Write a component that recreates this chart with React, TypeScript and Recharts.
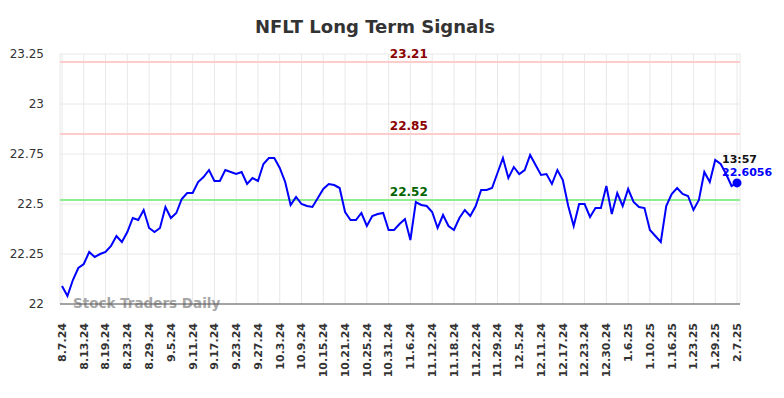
import { CartesianGrid, Customized, Line, LineChart, ReferenceLine, XAxis, YAxis } from 'recharts';

const tickLabels = [
  '8.7.24', '8.13.24', '8.19.24', '8.23.24', '8.29.24', '9.5.24', '9.11.24', '9.17.24',
  '9.23.24', '9.27.24', '10.3.24', '10.9.24', '10.15.24', '10.21.24', '10.25.24', '10.31.24',
  '11.6.24', '11.12.24', '11.18.24', '11.22.24', '11.29.24', '12.5.24', '12.11.24', '12.17.24',
  '12.23.24', '12.30.24', '1.6.25', '1.10.25', '1.16.25', '1.23.25', '1.29.25', '2.7.25',
];

const closes = [
  22.09, 22.04, 22.12, 22.18, 22.2, 22.26, 22.235, 22.25, 22.26, 22.29,
  22.34, 22.31, 22.36, 22.43, 22.42, 22.47, 22.38, 22.36, 22.38, 22.485,
  22.43, 22.455, 22.525, 22.555, 22.555, 22.61, 22.635, 22.67, 22.615, 22.615,
  22.67, 22.66, 22.65, 22.66, 22.6, 22.63, 22.615, 22.7, 22.73, 22.73,
  22.68, 22.61, 22.495, 22.535, 22.5, 22.49, 22.485, 22.53, 22.575, 22.6,
  22.595, 22.58, 22.46, 22.42, 22.42, 22.455, 22.39, 22.44, 22.45, 22.455,
  22.37, 22.37, 22.4, 22.425, 22.32, 22.51, 22.495, 22.49, 22.46, 22.38,
  22.445, 22.39, 22.37, 22.43, 22.47, 22.44, 22.49, 22.57, 22.57, 22.58,
  22.655, 22.73, 22.63, 22.685, 22.65, 22.67, 22.745, 22.695, 22.645, 22.65,
  22.6, 22.67, 22.62, 22.49, 22.39, 22.5, 22.5, 22.435, 22.48, 22.48,
  22.59, 22.45, 22.555, 22.49, 22.575, 22.51, 22.485, 22.48, 22.37, 22.34,
  22.31, 22.49, 22.55, 22.58, 22.55, 22.54, 22.47, 22.52, 22.66, 22.61,
  22.72, 22.7, 22.65, 22.59, 22.6056,
];

const signals = [
  { value: 23.21, line: '#ffcccc', text: '#8b0000' },
  { value: 22.85, line: '#ffcccc', text: '#8b0000' },
  { value: 22.52, line: '#90ee90', text: '#006400' },
];

const yTicks = [22, 22.25, 22.5, 22.75, 23, 23.25];
const lastTime = '13:57';

const FONT = '"DejaVu Sans", sans-serif';
const data = closes.map((v, i) => ({ i, v }));
const tickIdx = tickLabels.map((_, k) => k * 4);
const last = closes.length - 1;

function DateTick({ x, y, payload }: any) {
  const label = tickLabels[Math.round(payload.value / 4)];
  return (
    <text
      transform={`translate(${x},${y + 11}) rotate(-90)`}
      textAnchor="end"
      dy="0.35em"
      fontSize={11}
      fontWeight="bold"
      fill="#333"
      fontFamily={FONT}
    >
      {label}
    </text>
  );
}

function LastDot(props: any) {
  const { cx, cy, index } = props;
  if (index !== last) return <g key={index} />;
  return (
    <g key={index}>
      <circle cx={cx} cy={cy} r={4.5} fill="#0000ff" />
      <text x={cx - 15} y={cy - 20} fontSize={11} fontWeight="bold" fill="#111" fontFamily={FONT}>
        {lastTime}
      </text>
      <text x={cx - 15} y={cy - 7} fontSize={11} fontWeight="bold" fill="#0000ff" fontFamily={FONT}>
        {closes[last]}
      </text>
    </g>
  );
}

export default function App() {
  return (
    <div style={{ position: 'absolute', left: 0, top: 0, width: 784, height: 398, background: '#fff' }}>
      <div
        style={{
          position: 'absolute',
          left: 0,
          width: 750,
          top: 16,
          textAlign: 'center',
          fontFamily: FONT,
          fontWeight: 'bold',
          fontSize: 18,
          color: '#333',
        }}
      >
        NFLT Long Term Signals
      </div>
      <LineChart width={784} height={398} data={data} margin={{ top: 54, right: 44, bottom: 0, left: 0 }}>
        <CartesianGrid stroke="#e8e8e8" />
        <Customized
          component={() => (
            <text x={73} y={308} fontSize={13.5} fontWeight="bold" fill="#a6a6a6" fontFamily={FONT}>
              Stock Traders Daily
            </text>
          )}
        />
        <XAxis
          dataKey="i"
          type="number"
          domain={[0, last]}
          ticks={tickIdx}
          interval={0}
          padding={{ left: 2, right: 3 }}
          height={94}
          tick={<DateTick />}
          tickLine={false}
          stroke="#555"
        />
        <YAxis
          domain={[22, 23.25]}
          ticks={yTicks}
          width={60}
          axisLine={false}
          tickLine={false}
          tickSize={0}
          tickMargin={16}
          tick={{ fontSize: 12, fill: '#333', fontFamily: FONT }}
        />
        {signals.map((s) => (
          <ReferenceLine
            key={s.value}
            y={s.value}
            stroke={s.line}
            strokeWidth={2}
            label={({ viewBox }: any) => (
              <text
                x={viewBox.x + viewBox.width * 0.513}
                y={viewBox.y - 4}
                textAnchor="middle"
                fontSize={12}
                fontWeight="bold"
                fill={s.text}
                fontFamily={FONT}
              >
                {s.value}
              </text>
            )}
          />
        ))}
        <Line
          dataKey="v"
          type="linear"
          stroke="#0000ff"
          strokeWidth={2}
          dot={LastDot}
          activeDot={false}
          isAnimationActive={false}
        />
      </LineChart>
    </div>
  );
}
